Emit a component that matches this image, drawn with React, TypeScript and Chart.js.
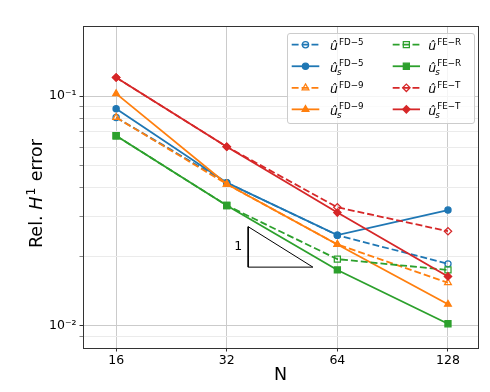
import React, { useEffect, useRef } from 'react';
import { Chart, registerables } from 'chart.js';

Chart.register(...registerables);

// ---------------- data ----------------
const N = [16, 32, 64, 128];
const uFD5 = [0.0807, 0.042, 0.0248, 0.0186];
const usFD5 = [0.0881, 0.042, 0.0248, 0.0319];
const uFD9 = [0.0807, 0.0414, 0.0226, 0.0154];
const usFD9 = [0.1025, 0.0414, 0.0226, 0.0124];
const uFER = [0.0672, 0.0334, 0.0195, 0.0175];
const usFER = [0.0672, 0.0334, 0.0175, 0.0102];
const uFET = [0.1205, 0.0602, 0.0328, 0.0258];
const usFET = [0.1205, 0.0602, 0.0311, 0.0164];

const xTickValues = [16, 32, 64, 128];
const yMajorTicks = [0.01, 0.1];
const yMinorTicks = [0.009, 0.02, 0.03, 0.04, 0.05, 0.06, 0.07, 0.08, 0.09];
const yMajorLabels = ['10⁻²', '10⁻¹'];

// slope triangle (data coordinates) and its label
const slopeX = [36.6, 36.6, 54.9, 36.6];
const slopeY = [0.027, 0.018, 0.018, 0.027];
const slopeLabel = '1';
const slopeLabelX = 34.4;
const slopeLabelY = 0.02205;

const xTitle = 'N';
const FAM = '"DejaVu Sans", sans-serif';

const BLUE = '#1f77b4';
const ORANGE = '#ff7f0e';
const GREEN = '#2ca02c';
const RED = '#d62728';

type Marker = 'circle' | 'triangle' | 'rect' | 'rectRot';
interface Series {
  sup: string;
  sub: boolean;
  values: number[];
  color: string;
  dashed: boolean;
  marker: Marker;
  filled: boolean;
  col: number;
  row: number;
}

const series: Series[] = [
  { sup: 'FD−5', sub: false, values: uFD5, color: BLUE, dashed: true, marker: 'circle', filled: false, col: 0, row: 0 },
  { sup: 'FD−5', sub: true, values: usFD5, color: BLUE, dashed: false, marker: 'circle', filled: true, col: 0, row: 1 },
  { sup: 'FD−9', sub: false, values: uFD9, color: ORANGE, dashed: true, marker: 'triangle', filled: false, col: 0, row: 2 },
  { sup: 'FD−9', sub: true, values: usFD9, color: ORANGE, dashed: false, marker: 'triangle', filled: true, col: 0, row: 3 },
  { sup: 'FE−R', sub: false, values: uFER, color: GREEN, dashed: true, marker: 'rect', filled: false, col: 1, row: 0 },
  { sup: 'FE−R', sub: true, values: usFER, color: GREEN, dashed: false, marker: 'rect', filled: true, col: 1, row: 1 },
  { sup: 'FE−T', sub: false, values: uFET, color: RED, dashed: true, marker: 'rectRot', filled: false, col: 1, row: 2 },
  { sup: 'FE−T', sub: true, values: usFET, color: RED, dashed: false, marker: 'rectRot', filled: true, col: 1, row: 3 },
];

const markerRadius: Record<Marker, number> = { circle: 3.1, triangle: 3.9, rect: 4.3, rectRot: 3.7 };
const LINE_W = 1.8;
const DASH = [6.9, 3];
const MARKER_EDGE = 1.25;

function isMajor(v: number) {
  const l = Math.log10(v);
  return Math.abs(l - Math.round(l)) < 1e-6;
}

function yLabelFor(v: number) {
  for (let i = 0; i < yMajorTicks.length; i++) {
    if (Math.abs(v - yMajorTicks[i]) / yMajorTicks[i] < 1e-6) return yMajorLabels[i];
  }
  return '';
}

function drawMarker(ctx: CanvasRenderingContext2D, style: Marker, x: number, y: number, r: number) {
  ctx.beginPath();
  if (style === 'circle') {
    ctx.arc(x, y, r, 0, Math.PI * 2);
  } else if (style === 'triangle') {
    ctx.moveTo(x, y - r);
    ctx.lineTo(x + r * Math.sin((2 * Math.PI) / 3), y - r * Math.cos((2 * Math.PI) / 3));
    ctx.lineTo(x + r * Math.sin((4 * Math.PI) / 3), y - r * Math.cos((4 * Math.PI) / 3));
  } else if (style === 'rect') {
    const s = Math.SQRT1_2 * r;
    ctx.rect(x - s, y - s, 2 * s, 2 * s);
  } else {
    ctx.moveTo(x - r, y);
    ctx.lineTo(x, y - r);
    ctx.lineTo(x + r, y);
    ctx.lineTo(x, y + r);
  }
  ctx.closePath();
}

function drawMathLabel(ctx: CanvasRenderingContext2D, x: number, baseline: number, sup: string, sub: boolean) {
  const base = 12.5;
  const small = 8.75;
  ctx.textAlign = 'left';
  ctx.textBaseline = 'alphabetic';
  ctx.fillStyle = '#000';
  ctx.font = `italic ${base}px ${FAM}`;
  ctx.fillText('û', x, baseline);
  const w = ctx.measureText('û').width;
  if (sub) {
    ctx.font = `italic ${small}px ${FAM}`;
    ctx.fillText('s', x + w - 1, baseline + 3.3);
  }
  ctx.font = `${small}px ${FAM}`;
  ctx.fillText(sup, x + w + 1.0, baseline - 5.2);
}

const customPlugin = {
  id: 'customDecor',
  afterDatasetsDraw(chart: any) {
    const ctx: CanvasRenderingContext2D = chart.ctx;
    const { left, right, top, bottom } = chart.chartArea;
    const xs = chart.scales.x;
    const ys = chart.scales.y;
    ctx.save();
    // slope label
    ctx.font = `12.5px ${FAM}`;
    ctx.fillStyle = '#000';
    ctx.textAlign = 'center';
    ctx.textBaseline = 'middle';
    ctx.fillText(slopeLabel, xs.getPixelForValue(slopeLabelX), ys.getPixelForValue(slopeLabelY));
    // frame
    ctx.strokeStyle = '#333';
    ctx.lineWidth = 1;
    ctx.setLineDash([]);
    ctx.strokeRect(left + 0.5, top - 0.5, right - left, bottom - top + 1);
    ctx.restore();
  },
  afterDraw(chart: any) {
    const ctx: CanvasRenderingContext2D = chart.ctx;
    ctx.save();
    // ---- legend ----
    const bx = 287.5, by = 33.5, bw = 187, bh = 90, rad = 2.5;
    ctx.beginPath();
    ctx.moveTo(bx + rad, by);
    ctx.lineTo(bx + bw - rad, by);
    ctx.arcTo(bx + bw, by, bx + bw, by + rad, rad);
    ctx.lineTo(bx + bw, by + bh - rad);
    ctx.arcTo(bx + bw, by + bh, bx + bw - rad, by + bh, rad);
    ctx.lineTo(bx + rad, by + bh);
    ctx.arcTo(bx, by + bh, bx, by + bh - rad, rad);
    ctx.lineTo(bx, by + rad);
    ctx.arcTo(bx, by, bx + rad, by, rad);
    ctx.closePath();
    ctx.fillStyle = 'rgba(255,255,255,0.8)';
    ctx.fill();
    ctx.strokeStyle = '#cccccc';
    ctx.lineWidth = 1;
    ctx.stroke();

    const colLineX = [[291.7, 319.3], [392.7, 420]];
    const colLabelX = [330, 428.3];
    const row0 = 44.7;
    const rowStep = 21.55;
    for (const s of series) {
      const y = row0 + rowStep * s.row;
      const [x0, x1] = colLineX[s.col];
      ctx.beginPath();
      ctx.setLineDash(s.dashed ? DASH : []);
      ctx.strokeStyle = s.color;
      ctx.lineWidth = LINE_W;
      ctx.moveTo(x0, y);
      ctx.lineTo(x1, y);
      ctx.stroke();
      ctx.setLineDash([]);
      drawMarker(ctx, s.marker, (x0 + x1) / 2, y, markerRadius[s.marker]);
      if (s.filled) {
        ctx.fillStyle = s.color;
        ctx.fill();
      }
      ctx.lineWidth = MARKER_EDGE;
      ctx.strokeStyle = s.color;
      ctx.stroke();
      drawMathLabel(ctx, colLabelX[s.col], y + 5.3, s.sup, s.sub);
    }

    // ---- y axis title: "Rel. H¹ error" ----
    ctx.translate(42, 248);
    ctx.rotate(-Math.PI / 2);
    ctx.fillStyle = '#000';
    ctx.textAlign = 'left';
    ctx.textBaseline = 'alphabetic';
    let x = 0;
    ctx.font = `17.5px ${FAM}`;
    ctx.fillText('Rel. ', x, 0);
    x += ctx.measureText('Rel. ').width;
    ctx.font = `italic 17.5px ${FAM}`;
    ctx.fillText('H', x, 0);
    x += ctx.measureText('H').width + 1.2;
    ctx.font = `12.25px ${FAM}`;
    ctx.fillText('1', x, -7.5);
    x += ctx.measureText('1').width + 0.8;
    ctx.font = `17.5px ${FAM}`;
    ctx.fillText(' error', x, 0);
    ctx.restore();
  },
};

export default function App() {
  const ref = useRef<HTMLCanvasElement>(null);

  useEffect(() => {
    const canvas = ref.current;
    if (!canvas) return;

    const datasets: any[] = series.map((s, i) => ({
      type: 'line',
      label: `û${s.sub ? '_s' : ''}^${s.sup}`,
      data: N.map((n, j) => ({ x: n, y: s.values[j] })),
      borderColor: s.color,
      backgroundColor: s.color,
      borderWidth: LINE_W,
      borderDash: s.dashed ? DASH : [],
      pointStyle: s.marker,
      pointRadius: markerRadius[s.marker],
      pointHoverRadius: markerRadius[s.marker],
      pointBorderWidth: MARKER_EDGE,
      pointBorderColor: s.color,
      pointBackgroundColor: s.filled ? s.color : 'rgba(255,255,255,0)',
      tension: 0,
      fill: false,
      order: 100 - i,
    }));

    datasets.push({
      type: 'line',
      label: 'slope',
      data: slopeX.map((x, i) => ({ x, y: slopeY[i] })),
      borderColor: '#000',
      borderWidth: 1,
      pointRadius: 0,
      tension: 0,
      fill: false,
      order: 0,
    });

    const allYTicks = [...yMinorTicks, ...yMajorTicks].sort((a, b) => a - b);

    const chart = new Chart(canvas, {
      type: 'line',
      data: { datasets },
      plugins: [customPlugin as any],
      options: {
        animation: false,
        responsive: false,
        events: [],
        layout: { padding: { top: 27, right: 12, left: 0, bottom: 0 } },
        plugins: {
          legend: { display: false },
          tooltip: { enabled: false },
        },
        scales: {
          x: {
            type: 'logarithmic',
            min: 13,
            max: 154.5,
            bounds: 'data',
            afterBuildTicks: (s: any) => {
              s.ticks = xTickValues.map((v) => ({ value: v }));
            },
            afterFit: (s: any) => {
              s.height = 44;
            },
            ticks: {
              autoSkip: false,
              maxRotation: 0,
              minRotation: 0,
              padding: 2,
              color: '#000',
              font: { family: FAM, size: 12.5 },
              callback: (v: any) => String(v),
            },
            grid: {
              color: '#cbcbcb',
              lineWidth: 1,
              tickLength: 3.5,
              tickColor: '#333',
              drawTicks: true,
            },
            border: { display: false },
            title: {
              display: true,
              text: xTitle,
              color: '#000',
              font: { family: FAM, size: 17.5 },
              padding: { top: 0, bottom: 6 },
            },
          },
          y: {
            type: 'logarithmic',
            min: 0.008,
            max: 0.2,
            bounds: 'data',
            afterBuildTicks: (s: any) => {
              s.ticks = allYTicks.map((v) => ({ value: v }));
            },
            afterFit: (s: any) => {
              s.width = 83;
            },
            ticks: {
              autoSkip: false,
              padding: 3,
              color: '#000',
              font: { family: FAM, size: 12.5 },
              callback: (v: any) => yLabelFor(Number(v)),
            },
            grid: {
              color: (c: any) => (c.tick && isMajor(c.tick.value) ? '#cbcbcb' : '#ebebeb'),
              tickColor: (c: any) => (c.tick && isMajor(c.tick.value) ? '#333' : '#888'),
              lineWidth: 1,
              tickLength: 3.5,
              drawTicks: true,
            },
            border: { display: false },
          },
        },
      } as any,
    });

    return () => {
      chart.destroy();
    };
  }, []);

  return (
    <div style={{ position: 'fixed', left: 0, top: 0, width: 490, height: 392, background: '#fff' }}>
      <canvas ref={ref} width={490} height={392} style={{ display: 'block', width: 490, height: 392 }} />
    </div>
  );
}
